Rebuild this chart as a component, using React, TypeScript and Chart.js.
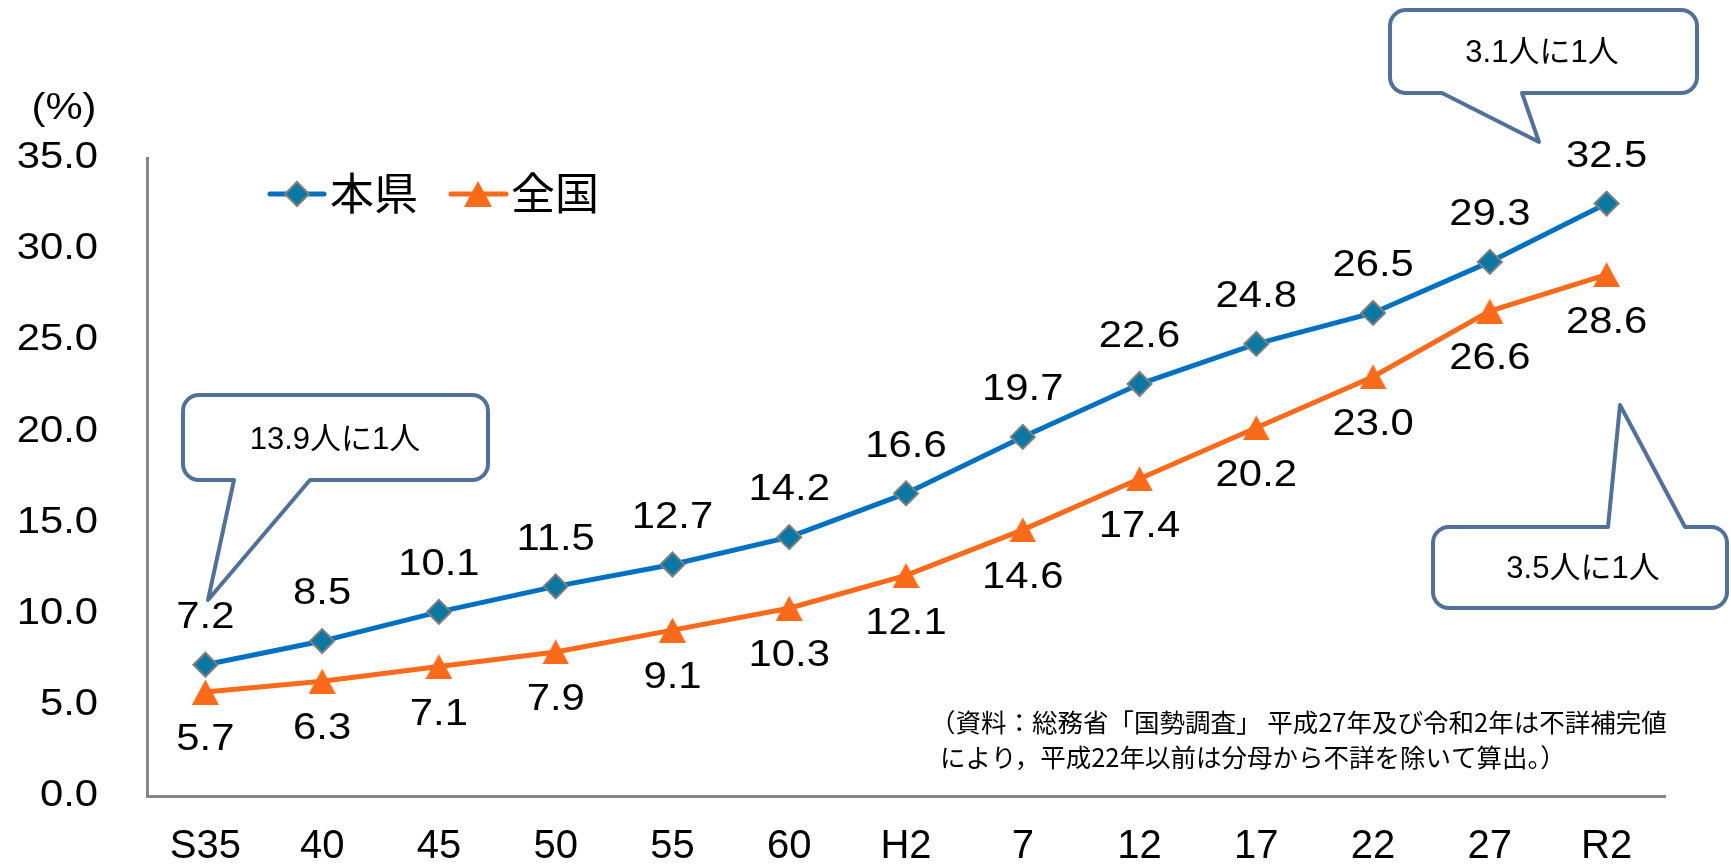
import { useEffect, useRef } from 'react';
import { Chart, registerables } from 'chart.js';

Chart.register(...registerables);

// ---- data ----
const categories = ['S35', '40', '45', '50', '55', '60', 'H2', '7', '12', '17', '22', '27', 'R2'];
const prefValues = [7.2, 8.5, 10.1, 11.5, 12.7, 14.2, 16.6, 19.7, 22.6, 24.8, 26.5, 29.3, 32.5];
const nationalValues = [5.7, 6.3, 7.1, 7.9, 9.1, 10.3, 12.1, 14.6, 17.4, 20.2, 23.0, 26.6, 28.6];
const seriesNames = ['本県', '全国'];
const yMin = 0;
const yMax = 35;
const yStep = 5;
const unitLabel = '(%)';
const calloutTexts = ['13.9人に1人', '3.1人に1人', '3.5人に1人'];
const noteLines = [
  '（資料：総務省「国勢調査」 平成27年及び令和2年は不詳補完値',
  'により，平成22年以前は分母から不詳を除いて算出。）',
];

// ---- styles ----
const BLUE_LINE = '#0071c1';
const BLUE_FILL = '#0b78a3';
const MARKER_BORDER = '#7f7f7f';
const ORANGE = '#f96a1b';
const AXIS_GRAY = '#878787';
const CALLOUT_STROKE = '#51709a';
const NUM_FONT = "37px 'Liberation Sans', Arial, sans-serif";
const SX = 1.13;

type Callout = {
  box: [number, number, number, number];
  side: 'top' | 'bottom';
  a: number;
  b: number;
  tip: [number, number];
  text: [number, number];
};

const calloutGeom: Callout[] = [
  { box: [183, 395, 488, 480], side: 'bottom', a: 234, b: 310, tip: [208, 600], text: [335, 440] },
  { box: [1390, 10, 1697, 93], side: 'bottom', a: 1442, b: 1522, tip: [1539, 142], text: [1542, 53] },
  { box: [1433, 527, 1727, 608], side: 'top', a: 1608, b: 1685, tip: [1620, 405], text: [1583, 569] },
];

function stretchedText(ctx: CanvasRenderingContext2D, text: string, x: number, y: number, align: CanvasTextAlign) {
  ctx.save();
  ctx.translate(x, y);
  ctx.scale(SX, 1);
  ctx.textAlign = align;
  ctx.fillText(text, 0, 0);
  ctx.restore();
}

function calloutPath(ctx: CanvasRenderingContext2D, c: Callout, r: number) {
  const [x0, y0, x1, y1] = c.box;
  ctx.beginPath();
  ctx.moveTo(x0 + r, y0);
  if (c.side === 'top') {
    ctx.lineTo(c.a, y0);
    ctx.lineTo(c.tip[0], c.tip[1]);
    ctx.lineTo(c.b, y0);
  }
  ctx.lineTo(x1 - r, y0);
  ctx.arcTo(x1, y0, x1, y0 + r, r);
  ctx.lineTo(x1, y1 - r);
  ctx.arcTo(x1, y1, x1 - r, y1, r);
  if (c.side === 'bottom') {
    ctx.lineTo(c.b, y1);
    ctx.lineTo(c.tip[0], c.tip[1]);
    ctx.lineTo(c.a, y1);
  }
  ctx.lineTo(x0 + r, y1);
  ctx.arcTo(x0, y1, x0, y1 - r, r);
  ctx.lineTo(x0, y0 + r);
  ctx.arcTo(x0, y0, x0 + r, y0, r);
  ctx.closePath();
}

function drawDiamond(ctx: CanvasRenderingContext2D, x: number, y: number, r: number) {
  ctx.beginPath();
  ctx.moveTo(x - r, y);
  ctx.lineTo(x, y - r);
  ctx.lineTo(x + r, y);
  ctx.lineTo(x, y + r);
  ctx.closePath();
  ctx.fillStyle = BLUE_FILL;
  ctx.fill();
  ctx.lineWidth = 2;
  ctx.strokeStyle = MARKER_BORDER;
  ctx.stroke();
}

function makeTriangle(w: number, h: number): HTMLCanvasElement {
  const c = document.createElement('canvas');
  c.width = w;
  c.height = h;
  const g = c.getContext('2d')!;
  g.beginPath();
  g.moveTo(w / 2, 0);
  g.lineTo(w, h);
  g.lineTo(0, h);
  g.closePath();
  g.fillStyle = ORANGE;
  g.fill();
  return c;
}

const overlayPlugin = {
  id: 'overlay',
  afterDraw(chart: any) {
    const ctx: CanvasRenderingContext2D = chart.ctx;
    const yScale = chart.scales.y;
    const area = chart.chartArea;
    ctx.save();
    ctx.fillStyle = '#000';
    ctx.textBaseline = 'middle';
    ctx.font = NUM_FONT;

    // y tick labels
    yScale.ticks.forEach((t: any) => {
      stretchedText(ctx, Number(t.value).toFixed(1), area.left - 49, yScale.getPixelForValue(t.value), 'right');
    });
    // unit label
    stretchedText(ctx, unitLabel, 64, 109, 'center');

    // data labels
    chart.data.datasets.forEach((ds: any, di: number) => {
      const meta = chart.getDatasetMeta(di);
      meta.data.forEach((pt: any, i: number) => {
        const v = ds.data[i];
        const dy = di === 0 ? -47 : 48;
        ctx.fillStyle = '#000';
        ctx.font = NUM_FONT;
        stretchedText(ctx, Number(v).toFixed(1), pt.x, pt.y + dy, 'center');
      });
    });

    // legend
    ctx.lineCap = 'round';
    ctx.lineWidth = 5;
    ctx.strokeStyle = BLUE_LINE;
    ctx.beginPath();
    ctx.moveTo(270, 194);
    ctx.lineTo(324, 194);
    ctx.stroke();
    drawDiamond(ctx, 297, 194, 12);
    ctx.strokeStyle = ORANGE;
    ctx.lineWidth = 5;
    ctx.beginPath();
    ctx.moveTo(451, 194);
    ctx.lineTo(506, 194);
    ctx.stroke();
    ctx.beginPath();
    ctx.moveTo(478, 181);
    ctx.lineTo(492, 207);
    ctx.lineTo(464, 207);
    ctx.closePath();
    ctx.fillStyle = ORANGE;
    ctx.fill();
    ctx.fillStyle = '#000';
    ctx.font = "44px 'Noto Sans CJK JP', sans-serif";
    ctx.textAlign = 'left';
    ctx.fillText(seriesNames[0], 330, 193);
    ctx.fillText(seriesNames[1], 511, 193);

    // callouts
    calloutGeom.forEach((c, i) => {
      calloutPath(ctx, c, 16);
      ctx.fillStyle = '#fff';
      ctx.fill();
      ctx.lineJoin = 'round';
      ctx.lineWidth = 4;
      ctx.strokeStyle = CALLOUT_STROKE;
      ctx.stroke();
      ctx.fillStyle = '#000';
      ctx.font = "31px 'Liberation Sans', 'Noto Sans CJK JP', sans-serif";
      ctx.textAlign = 'center';
      ctx.fillText(calloutTexts[i], c.text[0], c.text[1]);
    });

    // note
    ctx.font = "25.5px 'Noto Sans CJK JP', sans-serif";
    ctx.textAlign = 'left';
    ctx.fillStyle = '#000';
    ctx.fillText(noteLines[0], 930, 722);
    ctx.fillText(noteLines[1], 940, 757);

    ctx.restore();
  },
};

export default function App() {
  const ref = useRef<HTMLCanvasElement | null>(null);

  useEffect(() => {
    document.body.style.margin = '0';
    const canvas = ref.current;
    if (!canvas) return;
    const tri = makeTriangle(27, 25);
    const chart = new Chart(canvas, {
      type: 'line',
      data: {
        labels: categories,
        datasets: [
          {
            label: seriesNames[0],
            data: prefValues,
            borderColor: BLUE_LINE,
            borderWidth: 5,
            backgroundColor: BLUE_FILL,
            pointStyle: 'rectRot',
            pointRadius: 12,
            pointBackgroundColor: BLUE_FILL,
            pointBorderColor: MARKER_BORDER,
            pointBorderWidth: 2,
            tension: 0,
          },
          {
            label: seriesNames[1],
            data: nationalValues,
            borderColor: ORANGE,
            borderWidth: 5,
            backgroundColor: ORANGE,
            pointStyle: tri as any,
            pointRadius: 13,
            tension: 0,
          },
        ],
      },
      options: {
        responsive: false,
        animation: false,
        devicePixelRatio: 1,
        layout: { padding: { left: 0, right: 66, top: 158, bottom: 0 } },
        plugins: {
          legend: { display: false },
          title: { display: false },
          tooltip: { enabled: false },
        },
        scales: {
          x: {
            type: 'category',
            offset: true,
            grid: { display: false, drawTicks: false },
            border: { display: true, color: AXIS_GRAY, width: 3 },
            ticks: {
              color: '#000',
              font: { family: "'Liberation Sans', Arial, sans-serif", size: 40 },
              padding: 27,
              maxRotation: 0,
              autoSkip: false,
            },
            afterFit: (s: any) => {
              s.height = 68;
            },
          },
          y: {
            min: yMin,
            max: yMax,
            grid: { display: false, drawTicks: false },
            border: { display: true, color: AXIS_GRAY, width: 3 },
            ticks: { display: false, stepSize: yStep },
            afterFit: (s: any) => {
              s.width = 147;
            },
          },
        },
      },
      plugins: [overlayPlugin],
    });
    return () => chart.destroy();
  }, []);

  return (
    <div style={{ width: 1731, height: 864, position: 'relative' }}>
      <canvas ref={ref} width={1731} height={864} style={{ display: 'block', width: 1731, height: 864 }} />
    </div>
  );
}
